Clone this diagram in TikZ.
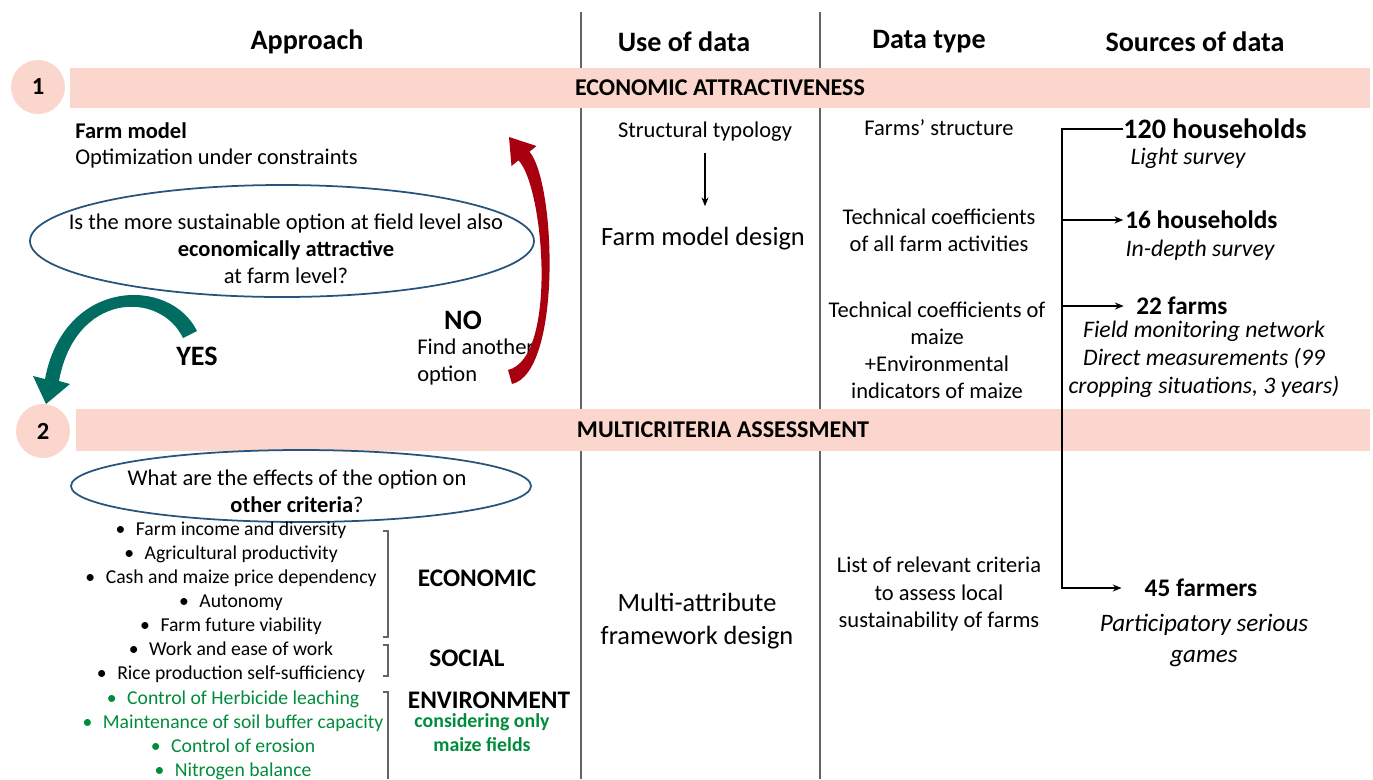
\documentclass[tikz,border=0pt]{standalone}
\usepackage{fontspec}
\setmainfont{Carlito}
\usepackage{tikz}
\usetikzlibrary{arrows.meta,calc}

\definecolor{bandpink}{RGB}{251,214,204}
\definecolor{yesteal}{RGB}{0,108,98}
\definecolor{nored}{RGB}{168,0,14}
\definecolor{ellblue}{RGB}{40,84,124}
\definecolor{envgreen}{RGB}{0,140,60}
\definecolor{rulegray}{RGB}{100,100,100}

\newcommand{\hdfont}{\fontsize{16}{19}\selectfont\bfseries}
\newcommand{\txfont}{\fontsize{12.8}{15.4}\selectfont}
\newcommand{\bigfont}{\fontsize{15}{18.8}\selectfont}
\newcommand{\bulfont}{\fontsize{11.2}{13.66}\selectfont}
\newcommand{\itfont}{\fontsize{13.5}{15.9}\selectfont\itshape}

\begin{document}
\begin{tikzpicture}[x=0.02cm,y=-0.02cm,>={Stealth[length=5pt,width=4pt]},
    head/.style={font=\hdfont},
    txt/.style={font=\txfont,align=center,inner sep=0pt},
    band/.style={fill=bandpink,inner sep=0pt,font=\fontsize{13.7}{16}\selectfont\bfseries},
    num/.style={circle,fill=bandpink,minimum size=1.08cm,inner sep=0pt,font=\fontsize{14}{16}\selectfont\bfseries},
    bul/.style={font=\bulfont,align=center,inner sep=0pt},
    cat/.style={font=\fontsize{14.4}{17}\selectfont\bfseries,inner sep=0pt},
    srcnum/.style={font=\fontsize{14.4}{17}\selectfont\bfseries,inner sep=0pt},
    srcit/.style={font=\itfont,align=center,inner sep=0pt},
    brk/.style={rulegray,line width=0.6pt},
    link/.style={black,line width=0.8pt}]
    \useasboundingbox (0,0) rectangle (1373,779);

    % column rules
    \draw[rulegray,line width=0.6pt] (581,12) -- (581,779);
    \draw[rulegray,line width=0.6pt] (820,12) -- (820,779);

    % headers
    \node[head] (hApp) at (307,42) {Approach};
    \node[head] (hUse) at (684,42) {Use of data};
    \node[head] (hTyp) at (929,42) {Data type};
    \node[head] (hSrc) at (1195,42) {Sources of data};

    % the two steps
    \node[band,minimum width=26cm,minimum height=0.8cm] (band1) at (720,88) {ECONOMIC ATTRACTIVENESS};
    \node[num] (n1) at (38,87) {1};
    \node[band,minimum width=25.9cm,minimum height=0.84cm] (band2) at (723,430) {MULTICRITERIA ASSESSMENT};
    \node[num] (n2) at (43,431) {2};

    % step 1, approach
    \node[txt,anchor=west] (fm) at (75,131) {\textbf{Farm model}};
    \node[txt,anchor=west] (opt) at (75,158) {Optimization under constraints};
    \draw[ellblue,line width=1pt] (282,241) ellipse [x radius=252, y radius=56];
    \node[txt] (q1) at (286,249) {Is the more sustainable option at field level also\\\textbf{economically attractive}\\at farm level?};
    \node[head] (yes) at (197,356) {YES};
    \node[head] (no) at (463,320) {NO};
    \node[txt,anchor=west,align=left] (fao) at (417,362) {Find another\\option};
    \fill[yesteal] (197,331) .. controls (170,276) and (64,278) .. (45,379) -- (33,376) -- (46,404) -- (70,384) -- (59,381) .. controls (75,292) and (160,290) .. (183,338) -- cycle;
    \fill[nored] (512,384) .. controls (562,372) and (556,183) .. (529.5,151.7) -- (536.5,146) -- (509,137) -- (511.5,166) -- (518.5,160.3) .. controls (544,187) and (558,358) .. (508,370) -- cycle;

    % step 1, use of data and data type
    \node[txt] (typ) at (705,132) {Structural typology};
    \node[txt,font=\bigfont] (fmd) at (703,239) {Farm model design};
    \draw[->,line width=0.6pt,shorten <=6pt,shorten >=12pt] (typ.south) -- (typ.south |- fmd.north);
    \node[txt] (dStr) at (939,128) {Farms’ structure};
    \node[txt] (dAll) at (939,230) {Technical coefficients\\of all farm activities};
    \node[txt] (dMaize) at (937,350) {Technical coefficients of\\maize\\+Environmental\\indicators of maize};

    % sources
    \node[anchor=west,inner sep=0pt,font=\fontsize{16}{19}\selectfont\bfseries] (h120) at (1123,129) {120 households};
    \node[srcit] (lsv) at (1188,158) {Light survey};
    \node[srcnum,anchor=west] (h16) at (1125,220) {16 households};
    \node[srcit] (isv) at (1200,250) {In-depth survey};
    \node[srcnum,anchor=west] (f22) at (1136,306) {22 farms};
    \node[srcit] (fmn) at (1204,359) {Field monitoring network\\Direct measurements (99\\cropping situations, 3 years)};
    \node[srcnum] (f45) at (1201,588) {45 farmers};
    \node[srcit,font=\fontsize{14.3}{17.6}\selectfont\itshape] (psg) at (1204,640) {Participatory serious\\games};
    \coordinate (trunk) at (1062,129);
    \draw[link,->,shorten >=13pt] (h120.west) -- (trunk) |- (f45.west);
    \draw[link,->,shorten >=1pt] (trunk |- h16.west) -- (h16.west);
    \draw[link,->,shorten >=7pt] (trunk |- f22.west) -- (f22.west);

    % step 2, approach
    \draw[ellblue,line width=1pt] (301,486) ellipse [x radius=230, y radius=36];
    \node[txt] (q2) at (297,491) {What are the effects of the option on\\\textbf{other criteria}?};
    \node[bul] (eco) at (231,578.5) {\textbullet\hspace{6pt}Farm income and diversity\\\textbullet\hspace{6pt}Agricultural productivity\\\textbullet\hspace{6pt}Cash and maize price dependency\\\textbullet\hspace{6pt}Autonomy\\\textbullet\hspace{6pt}Farm future viability};
    \node[bul] (soc) at (231,662) {\textbullet\hspace{6pt}Work and ease of work\\\textbullet\hspace{6pt}Rice production self-sufficiency};
    \node[bul,text=envgreen] (env) at (233,735) {\textbullet\hspace{6pt}Control of Herbicide leaching\\\textbullet\hspace{6pt}Maintenance of soil buffer capacity\\\textbullet\hspace{6pt}Control of erosion\\\textbullet\hspace{6pt}Nitrogen balance};
    \draw[brk] (383,531) -- (388,531) -- (388,637) -- (383,637);
    \draw[brk] (383,645) -- (388,645) -- (388,676) -- (383,676);
    \draw[brk] (383,692) -- (388,692) -- (388,779);
    \node[cat] (lEco) at (477,578) {ECONOMIC};
    \node[cat] (lSoc) at (467,658) {SOCIAL};
    \node[cat] (lEnv) at (489,700) {ENVIRONMENT};
    \node[bul,font=\fontsize{11.3}{13.7}\selectfont\bfseries,text=envgreen] (lMaize) at (482,733) {considering only\\maize fields};

    % step 2, use of data and data type
    \node[txt,font=\fontsize{15}{18.8}\selectfont] (mafd) at (697,621) {Multi-attribute\\framework design};
    \node[txt] (dList) at (939,594) {List of relevant criteria\\to assess local\\sustainability of farms};
\end{tikzpicture}
\end{document}
